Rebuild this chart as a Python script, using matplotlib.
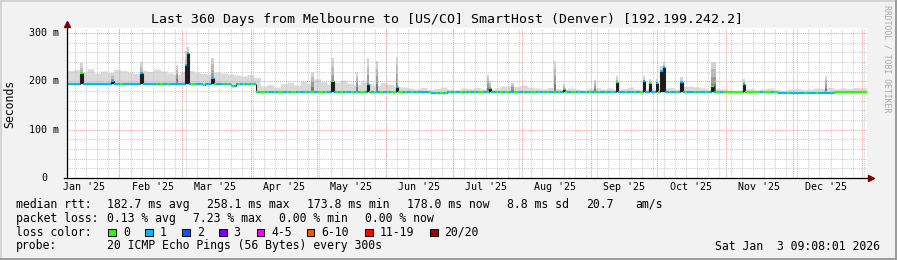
import datetime as dt
import numpy as np
import matplotlib
matplotlib.use("Agg")
import matplotlib.pyplot as plt
import matplotlib.transforms as mtransforms
from matplotlib.collections import LineCollection
from matplotlib.lines import Line2D
from matplotlib.patches import Rectangle

plt.rcParams['font.family'] = 'DejaVu Sans Mono'

W, H = 897, 260
END = dt.datetime(2026, 1, 3, 9, 8, 1)
SPAN = 360
START = END - dt.timedelta(days=SPAN)

# median rtt (ms) as flat runs [run_start, run_end) in days since START
run_start = [0, 61, 62, 74, 76, 85, 164, 171, 320, 345]
run_end = [61, 62, 74, 76, 85, 164, 171, 320, 345, 360]
run_rtt = [195, 193, 195, 190, 195, 178, 175.5, 178, 176.5, 178]

# days where the median jumps (dark spikes), nan = only the smoke goes up
spike_day = [6, 20, 33, 49, 53, 54, 65, 110, 119, 130, 135, 139, 148, 189, 190, 200,
             219, 223, 237, 247, 259, 262, 265, 267, 268, 276, 290, 291, 304, 341]
spike_rtt = [216, 201, 216, np.nan, 233, 258, 206, np.nan, 200, np.nan, 195, np.nan, 189,
             np.nan, 186, np.nan, np.nan, 184, np.nan, 198, 201, 197, 197, 222, 229, 198,
             190, np.nan, 194, np.nan]
spike_smoke = [238, 215, 240, 233, 262, 271, 248, 220, 247, 220, 247, 242, 251, 213, 200, 197,
               242, 195, 202, 210, 210, 205, 205, 232, 240, 208, 240, 240, 205, 211]

# top of the grey smoke, one value per 3 days
smoke_top = [222, 224, 219, 226, 217, 221, 218, 224, 222, 219,
             216, 223, 220, 225, 221, 217, 214, 220, 222, 219,
             216, 214, 219, 217, 215, 213, 211, 214, 208,
             190, 193, 188, 195, 198, 192, 200, 196, 205, 199, 194,
             198, 202, 196, 193, 199, 195, 191, 197, 194, 190, 188,
             186, 184, 187, 183, 185, 188, 184, 182, 186, 185,
             187, 184, 183, 186, 190, 191, 189, 192, 188, 186,
             184, 187, 185, 183, 186, 184, 182, 185, 187, 184,
             186, 183, 185, 188, 184, 182, 186, 183, 185, 187,
             184, 189, 190, 188, 186, 183, 185, 184, 182, 181,
             183, 185, 182, 184, 186, 183, 181, 184, 185, 183,
             184, 186, 185, 187, 184, 186, 185, 187, 186]

# packets lost per day (0 or 1 of 20)
loss_days = ("1111110111 1111111111 1111011111 1111111111 0101101111 "
             "1111110011 1011110111 0101011010 1010101001 0110100110 "
             "1001011010 0110010110 1010101101 0100110101 1011010010 "
             "0101101011 1110110101 0101011010 1010100110 0110101001 "
             "1001101010 0101010110 1010011001 0110101010 1101101011 "
             "1011101101 1101110111 1011011101 1101011011 0100100000 "
             "0000100000 0010000100 1111011111 1101111011 1111100000 "
             "0000000000").replace(" ", "")

loss_labels = ['0', '1', '2', '3', '4-5', '6-10', '11-19', '20/20']
loss_colors = ['#26ff00', '#00b8ff', '#0059ff', '#7e00ff', '#ff00ff', '#ff5500', '#ff0000', '#a10000']

title = "Last 360 Days from Melbourne to [US/CO] SmartHost (Denver) [192.199.242.2]"
stats_rtt = [("median rtt:", 16), ("182.7 ms avg", 107), ("258.1 ms max", 207),
             ("173.8 ms min", 307), ("178.0 ms now", 407), ("8.8 ms sd", 507),
             ("20.7", 586.5), ("am/s", 635)]
stats_loss = [("packet loss:", 16), ("0.13 % avg", 107), ("7.23 % max", 193),
              ("0.00 % min", 279), ("0.00 % now", 365)]
probe_text = "20 ICMP Echo Pings (56 Bytes) every 300s"
stamp = "Sat Jan  3 09:08:01 2026"


def day_of(t):
    return (t - START).total_seconds() / 86400.0


base = np.empty(SPAN)
for a, b, v in zip(run_start, run_end, run_rtt):
    base[a:b] = v
median = base.copy()
for d, r in zip(spike_day, spike_rtt):
    if not np.isnan(r):
        median[d] = r
loss = np.array([int(c) for c in loss_days])
top = np.maximum(np.repeat(smoke_top, 3)[:SPAN], base + 3)

fig = plt.figure(figsize=(W / 100, H / 100), dpi=100, facecolor='#f2f2f2')
ax = fig.add_axes([67 / W, 1 - 178 / H, 800 / W, 150.5 / H])
ax.set_facecolor('white')
ax.set_xlim(0, SPAN)
ax.set_ylim(0, 311)
for s in ax.spines.values():
    s.set_visible(False)
ax.set_xticks([])
ax.set_yticks([])

# smoke
xs = np.arange(SPAN + 1)
ax.fill_between(xs, np.append(base - 2, base[-1] - 2), np.append(top, top[-1]),
                step='post', color='#dadada', linewidth=0, zorder=1)
shades = ['#7c7c7c', '#9c9c9c', '#b9b9b9', '#d2d2d2']
for d, s in zip(spike_day, spike_smoke):
    edges = np.linspace(base[d], s, len(shades) + 1)
    for k, c in enumerate(shades):
        ax.bar(d, edges[k + 1] - edges[k], bottom=edges[k], width=1, align='edge',
               color=c, linewidth=0, zorder=1.5)

# grid
minor_days = []
t = dt.datetime(START.year, START.month, START.day)
while t < END:
    if (t - dt.datetime(1970, 1, 1)).days % 5 == 0:
        minor_days.append(day_of(t))
    t += dt.timedelta(days=1)
month_days, label_days, label_text = [], [], []
y, m = START.year, START.month
while True:
    m1 = dt.datetime(y, m, 1)
    mid = dt.datetime(y, m, 16)
    if m1 > END:
        break
    if m1 > START:
        month_days.append(day_of(m1))
    if START < mid < END:
        label_days.append(day_of(mid))
        label_text.append(mid.strftime("%b '%y"))
    m += 1
    if m > 12:
        m, y = 1, y + 1

dots = (0, (1, 1))
for d in minor_days:
    ax.axvline(d, color='#cccccc', lw=0.75, ls=dots, zorder=2)
for v in range(20, 311, 20):
    if v % 100:
        ax.axhline(v, color='#cccccc', lw=0.75, ls=dots, zorder=2)
for d in month_days:
    ax.axvline(d, color='#f0a0a0', lw=0.75, ls=dots, zorder=2.1)
for v in (100, 200, 300):
    ax.axhline(v, color='#f0a0a0', lw=0.75, ls=dots, zorder=2.1)

# dark spikes and jumps of the median
for d, r in zip(spike_day, spike_rtt):
    if not np.isnan(r):
        ax.bar(d, r - base[d], bottom=base[d], width=1, align='edge',
               color='#1c1c1c', linewidth=0, zorder=3)
for d in range(1, SPAN):
    if median[d] != median[d - 1]:
        ax.vlines(d, min(median[d], median[d - 1]), max(median[d], median[d - 1]),
                  color='#222222', lw=0.8, zorder=3)

# median line coloured by loss
segs = [[(d, median[d]), (d + 1, median[d])] for d in range(SPAN)]
lc = LineCollection(segs, colors=[loss_colors[k] for k in loss], linewidths=1.5,
                    capstyle='butt', zorder=4)
ax.add_collection(lc)

# axes with arrows
ax.plot([-0.004, 1.0], [0, 0], transform=ax.transAxes, color='black', lw=0.9,
        clip_on=False, zorder=5)
ax.plot([0, 0], [0, 1.02], transform=ax.transAxes, color='black', lw=0.9,
        clip_on=False, zorder=5)
ax.plot(0, 1.023, marker='^', ms=4.5, color='#7a0000', transform=ax.transAxes,
        clip_on=False, zorder=6)
ax.plot(1.005, 0, marker='>', ms=4.5, color='#7a0000', transform=ax.transAxes,
        clip_on=False, zorder=6)

# tick labels
bx = mtransforms.blended_transform_factory(ax.transData, ax.transAxes)
for d, s in zip(label_days, label_text):
    ax.text(d, -0.063, s, transform=bx, ha='center', va='center', fontsize=7.2)
by = mtransforms.blended_transform_factory(ax.transAxes, ax.transData)
for v in (100, 200, 300):
    ax.text(-0.0105, v, f"{v} m", transform=by, ha='right', va='center', fontsize=7.2)
ax.text(-0.025, 0, "0", transform=by, ha='right', va='center', fontsize=7.2)


def ftext(x, y, s, **kw):
    fig.text(x / W, 1 - y / H, s, va='center', **kw)


ftext(447, 19.5, title, ha='center', fontsize=9.5)
ftext(10, 104, "Seconds", ha='center', rotation=90, fontsize=8.3)
ftext(886.5, 59, "RRDTOOL / TOBI OETIKER", ha='center', rotation=-90, fontsize=5.9,
      color='#a8a8a8')

for s, x in stats_rtt:
    ftext(x, 204.3, s, fontsize=8.3)
for s, x in stats_loss:
    ftext(x, 218.3, s, fontsize=8.3)
ftext(16, 232.3, "loss color:", fontsize=8.3)
box_x = [108.3, 145, 182.3, 219, 256.7, 306.7, 365, 430]
for bxp, lab, col in zip(box_x, loss_labels, loss_colors):
    fig.add_artist(Rectangle((bxp / W, 1 - 236.3 / H), 7.7 / W, 7.7 / H,
                             transform=fig.transFigure, facecolor=col,
                             edgecolor='black', lw=0.75))
    ftext(bxp + 14.5, 232.3, lab, fontsize=8.3)
ftext(16, 246, "probe:", fontsize=8.3)
ftext(107, 246, probe_text, fontsize=8.3)
ftext(880, 246, stamp, ha='right', fontsize=8.3)

# image border
fig.add_artist(Line2D([0, 1], [1 - 0.5 / H] * 2, transform=fig.transFigure, color='#d4d4d4', lw=1.4))
fig.add_artist(Line2D([0.5 / W] * 2, [0, 1], transform=fig.transFigure, color='#d4d4d4', lw=1.4))
fig.add_artist(Line2D([0, 1], [1 / H] * 2, transform=fig.transFigure, color='#9a9a9a', lw=1.4))
fig.add_artist(Line2D([1 - 1 / W] * 2, [0, 1], transform=fig.transFigure, color='#9a9a9a', lw=1.4))

fig.savefig("out.png", dpi=100, facecolor=fig.get_facecolor())
